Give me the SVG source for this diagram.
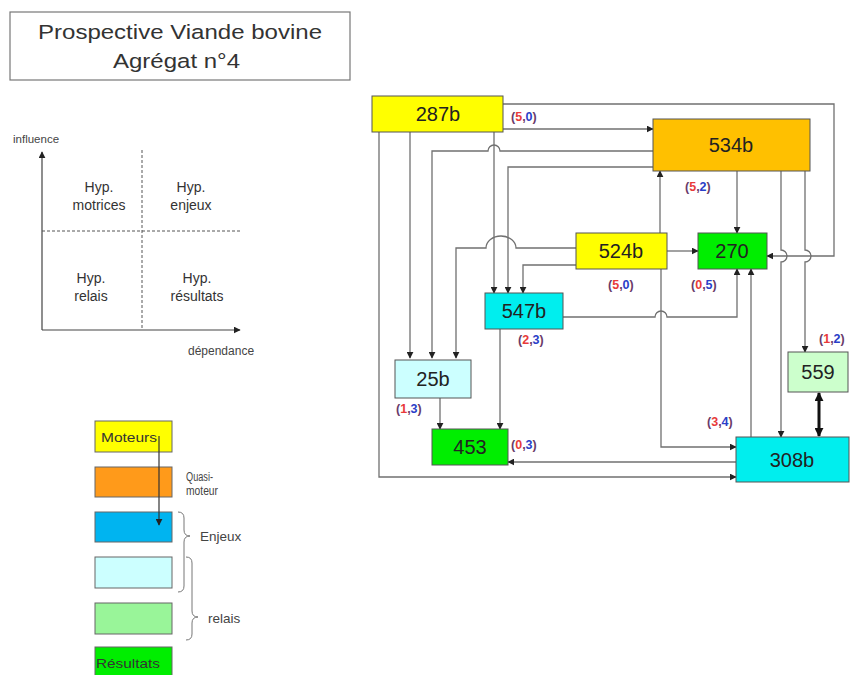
<svg xmlns="http://www.w3.org/2000/svg" width="852" height="675" viewBox="0 0 852 675">
<style>
text{font-family:"Liberation Sans",Arial,sans-serif}
.node{stroke:#555;stroke-width:1}
.lbl{font-size:20px;fill:#222;text-anchor:middle}
.conn{fill:none;stroke:#707070;stroke-width:1.3}
.sm{fill:#444}
.q{font-size:14px;fill:#333;text-anchor:middle}
.lg{stroke:#666;stroke-width:1}
.cd{font-size:12.5px;font-weight:bold;fill:#6a3a6a}
.r{fill:#e83a3a}
.b{fill:#2a3ec8}
</style>
<defs>
<marker id="ah" viewBox="0 0 10 10" refX="9" refY="5" markerWidth="7" markerHeight="7" markerUnits="userSpaceOnUse" orient="auto">
<path d="M0,0 L10,5 L0,10 z" fill="#222"/>
</marker>
<marker id="ahb" viewBox="0 0 10 10" refX="9" refY="5" markerWidth="9" markerHeight="9" markerUnits="userSpaceOnUse" orient="auto-start-reverse">
<path d="M0,0 L10,5 L0,10 z" fill="#111"/>
</marker>
</defs>
<rect width="852" height="675" fill="#fff"/>

<g id="title">
<rect x="10" y="12" width="340" height="68" fill="#fff" stroke="#777" stroke-width="1.2"/>
<text x="38" y="39" font-size="20.5" fill="#333" textLength="284" lengthAdjust="spacingAndGlyphs">Prospective Viande bovine</text>
<text x="113" y="68" font-size="20.5" fill="#333" textLength="127" lengthAdjust="spacingAndGlyphs">Agrégat n°4</text>
</g>

<g id="quadrant">
<line x1="42" y1="330" x2="42" y2="152" stroke="#444" stroke-width="1.2" marker-end="url(#ah)"/>
<line x1="42" y1="330" x2="240" y2="330" stroke="#444" stroke-width="1.2" marker-end="url(#ah)"/>
<line x1="142" y1="150" x2="142" y2="330" stroke="#555" stroke-width="1" stroke-dasharray="3,2"/>
<line x1="42" y1="231" x2="240" y2="231" stroke="#555" stroke-width="1" stroke-dasharray="3,2"/>
<text x="13" y="143" class="sm" font-size="11.5">influence</text>
<text x="188" y="355" class="sm" font-size="12">dépendance</text>
<text class="q" x="99" y="192">Hyp.</text>
<text class="q" x="99" y="210">motrices</text>
<text class="q" x="191" y="192">Hyp.</text>
<text class="q" x="191" y="210">enjeux</text>
<text class="q" x="91" y="283">Hyp.</text>
<text class="q" x="91" y="301">relais</text>
<text class="q" x="197" y="283">Hyp.</text>
<text class="q" x="197" y="301">résultats</text>
</g>

<g id="legend">
<rect class="lg" x="95" y="421" width="77" height="31" fill="#ffff00"/>
<text x="101" y="442" font-size="13.5" fill="#333" textLength="56" lengthAdjust="spacingAndGlyphs">Moteurs</text>
<rect class="lg" x="95" y="467" width="77" height="30" fill="#ff9a1a"/>
<text x="186" y="481" font-size="12.5" fill="#444" textLength="27" lengthAdjust="spacingAndGlyphs">Quasi-</text>
<text x="186" y="495" font-size="12.5" fill="#444" textLength="32" lengthAdjust="spacingAndGlyphs">moteur</text>
<rect class="lg" x="95" y="512" width="77" height="30" fill="#00b4f0"/>
<rect class="lg" x="95" y="557" width="77" height="31" fill="#ccffff"/>
<rect class="lg" x="95" y="603" width="77" height="31" fill="#99f599"/>
<rect class="lg" x="95" y="647" width="77" height="30" fill="#00ee00"/>
<text x="96" y="668" font-size="13.5" fill="#333" textLength="64" lengthAdjust="spacingAndGlyphs">Résultats</text>
<line x1="159" y1="436" x2="159" y2="525" stroke="#333" stroke-width="1.2" marker-end="url(#ah)"/>
<path d="M178,512 Q184,512 184,518 L184,530 Q184,536 190,536 Q184,536 184,542 L184,586 Q184,592 178,592" fill="none" stroke="#777" stroke-width="1"/>
<text x="200" y="541" font-size="13.5" fill="#444">Enjeux</text>
<path d="M186,557 Q192,557 192,563 L192,611 Q192,617 198,617 Q192,617 192,623 L192,634 Q192,640 186,640" fill="none" stroke="#777" stroke-width="1"/>
<text x="208" y="623" font-size="13.5" fill="#444">relais</text>
</g>

<g id="connectors">
<path class="conn" d="M503,104 L834,104 L834,256 L767,256" marker-end="url(#ah)"/>
<path class="conn" d="M503,129 L653,129" marker-end="url(#ah)"/>
<path class="conn" d="M410,132 L410,358" marker-end="url(#ah)"/>
<path class="conn" d="M494,132 L494,293" marker-end="url(#ah)"/>
<path class="conn" d="M379,132 L379,477 L736,477" marker-end="url(#ah)"/>
<path class="conn" d="M653,151 L500,151 A6,6 0 0 0 488,151 L432,151 L432,358" marker-end="url(#ah)"/>
<path class="conn" d="M653,167 L508,167 L508,293" marker-end="url(#ah)"/>
<path class="conn" d="M737,171 L737,233" marker-end="url(#ah)"/>
<path class="conn" d="M781,171 L781,250 A6,6 0 0 1 781,262 L781,437" marker-end="url(#ah)"/>
<path class="conn" d="M805,171 L805,250 A6,6 0 0 1 805,262 L805,352" marker-end="url(#ah)"/>
<path class="conn" d="M576,248 L516,248 A15,12 0 0 0 486,248 L456,248 L456,358" marker-end="url(#ah)"/>
<path class="conn" d="M576,265 L523,265 L523,293" marker-end="url(#ah)"/>
<path class="conn" d="M667,251 L698,251" marker-end="url(#ah)"/>
<path class="conn" d="M660,233 L660,171" marker-end="url(#ah)"/>
<path class="conn" d="M661,269 L661,447 L736,447" marker-end="url(#ah)"/>
<path class="conn" d="M563,317 L655,317 A6,6 0 0 1 667,317 L737,317 L737,269" marker-end="url(#ah)"/>
<path class="conn" d="M751,437 L751,269" marker-end="url(#ah)"/>
<path class="conn" d="M500,329 L500,429" marker-end="url(#ah)"/>
<path class="conn" d="M440,398 L440,429" marker-end="url(#ah)"/>
<path class="conn" d="M736,462 L508,462" marker-end="url(#ah)"/>
<path d="M819,393 L819,436" fill="none" stroke="#111" stroke-width="3" marker-start="url(#ahb)" marker-end="url(#ahb)"/>
</g>

<g id="n287b">
<rect class="node" x="372" y="96" width="131" height="36" fill="#ffff00"/>
<text class="lbl" x="438" y="121">287b</text>
<text class="cd" x="511" y="121">(<tspan class="r">5</tspan>,<tspan class="b">0</tspan>)</text>
</g>
<g id="n534b">
<rect class="node" x="653" y="119" width="157" height="52" fill="#ffc000"/>
<text class="lbl" x="731" y="152">534b</text>
<text class="cd" x="685" y="191">(<tspan class="r">5</tspan>,<tspan class="b">2</tspan>)</text>
</g>
<g id="n524b">
<rect class="node" x="576" y="233" width="91" height="36" fill="#ffff00"/>
<text class="lbl" x="621" y="258">524b</text>
<text class="cd" x="608" y="289">(<tspan class="r">5</tspan>,<tspan class="b">0</tspan>)</text>
</g>
<g id="n270">
<rect class="node" x="698" y="233" width="69" height="36" fill="#00ee00"/>
<text class="lbl" x="732" y="258">270</text>
<text class="cd" x="691" y="289">(<tspan class="r">0</tspan>,<tspan class="b">5</tspan>)</text>
</g>
<g id="n547b">
<rect class="node" x="485" y="293" width="78" height="36" fill="#00eeee"/>
<text class="lbl" x="524" y="318">547b</text>
<text class="cd" x="518" y="344">(<tspan class="r">2</tspan>,<tspan class="b">3</tspan>)</text>
</g>
<g id="n25b">
<rect class="node" x="395" y="360" width="76" height="38" fill="#ccffff"/>
<text class="lbl" x="433" y="386">25b</text>
<text class="cd" x="396" y="413">(<tspan class="r">1</tspan>,<tspan class="b">3</tspan>)</text>
</g>
<g id="n453">
<rect class="node" x="432" y="429" width="76" height="36" fill="#00ee00"/>
<text class="lbl" x="470" y="454">453</text>
<text class="cd" x="511" y="449">(<tspan class="r">0</tspan>,<tspan class="b">3</tspan>)</text>
</g>
<g id="n559">
<rect class="node" x="788" y="352" width="60" height="40" fill="#ccffcc"/>
<text class="lbl" x="818" y="379">559</text>
<text class="cd" x="819" y="343">(<tspan class="r">1</tspan>,<tspan class="b">2</tspan>)</text>
</g>
<g id="n308b">
<rect class="node" x="736" y="437" width="113" height="45" fill="#00eeee"/>
<text class="lbl" x="792" y="467">308b</text>
<text class="cd" x="707" y="426">(<tspan class="r">3</tspan>,<tspan class="b">4</tspan>)</text>
</g>
</svg>
